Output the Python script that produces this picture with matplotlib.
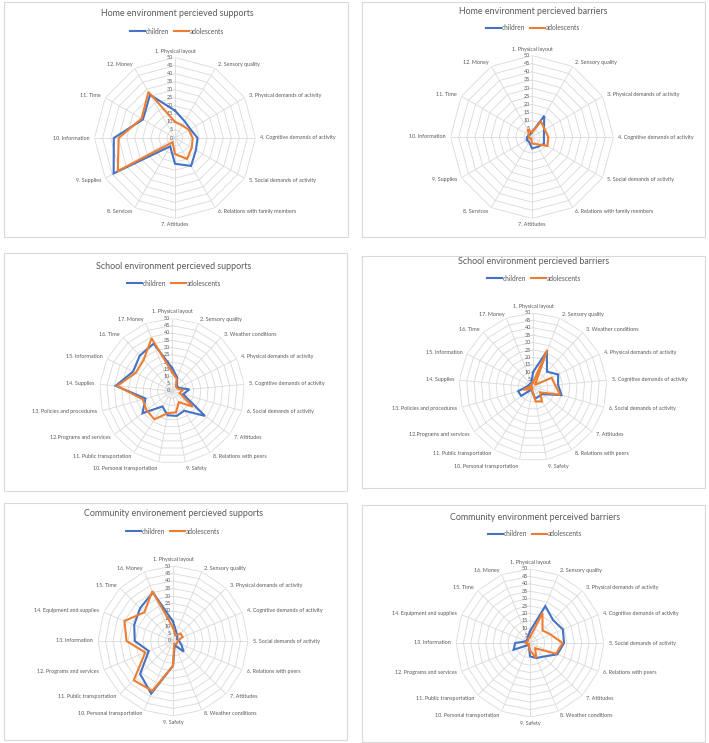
import matplotlib
matplotlib.use("Agg")
import matplotlib.pyplot as plt
import matplotlib.transforms as mtransforms
from matplotlib.patches import Rectangle
import numpy as np

plt.rcParams["font.family"] = ["Lato", "DejaVu Sans"]

W, H = 709, 743
BLUE = "#4472C4"
ORANGE = "#ED7D31"
GRID = "#D9D9D9"
TEXT = "#595959"

ring_values = [0, 5, 10, 15, 20, 25, 30, 35, 40, 45, 50]
series_names = ["children", "adolescents"]

home_labels = [
    "1. Physical layout", "2. Sensory quality", "3. Physical demands of activity",
    "4. Cognitive demands of activity", "5. Social demands of activity",
    "6. Relations with family members", "7. Attitudes", "8. Services",
    "9. Supplies", "10. Information", "11. Time", "12. Money",
]
school_labels = [
    "1. Physical layout", "2. Sensory quality", "3. Weather conditions",
    "4. Physical demands of activity", "5. Cognitive demands of activity",
    "6. Social demands of activity", "7. Attitudes", "8. Relations with peers",
    "9. Safety", "10. Personal transportation", "11. Public transportation",
    "12.Programs and services", "13. Policies and procedures", "14. Supplies",
    "15. Information", "16. Time", "17. Money",
]
community_labels = [
    "1. Physical layout", "2. Sensory quality", "3. Physical demands of activity",
    "4. Cognitive demands of activity", "5. Social demands of activity",
    "6. Relations with peers", "7. Attitudes", "8. Weather conditions",
    "9. Safety", "10. Personal transportation", "11. Public transportation",
    "12. Programs and services", "13. Information", "14. Equipment and supplies",
    "15. Time", "16. Money",
]

home_sup_children = [17, 12, 11, 14, 15, 20, 16, 6, 44, 38, 23, 31]
home_sup_adolescents = [10, 9, 10, 11, 12, 15, 10, 3, 41, 35, 24, 33]

home_bar_children = [3, 15, 8.5, 7.3, 8.5, 7, 7, 3.5, 3.7, 3, 2, 2]
home_bar_adolescents = [3, 11, 9, 10, 11, 5, 4, 1, 2, 2, 2, 5.5]

school_sup_children = [16, 10, 5, 5, 12, 8, 28.5, 16, 17.5, 17, 12.5, 25.5, 19, 39, 30, 33, 35]
school_sup_adolescents = [13, 9, 4, 4, 7.5, 5.5, 18, 9, 15, 15.5, 23, 22, 21, 38, 28, 29, 39]

school_bar_children = [10, 26, 14, 19, 17, 20, 8, 7.5, 8, 3, 2, 10, 10.5, 4, 3, 3, 3]
school_bar_adolescents = [3, 27, 2, 14, 15, 19, 6, 11.5, 10, 3, 1, 2, 7, 2, 1, 2, 2]

community_sup_children = [13, 6, 4, 3, 4, 6, 10, 3, 16.5, 38, 31, 17.5, 25.5, 28, 31, 35]
community_sup_adolescents = [9, 4, 7, 7, 3, 3, 3, 2, 16.5, 36, 37, 20, 31, 35, 27, 36]

community_bar_children = [8, 27, 22, 24, 23, 20, 13, 11, 9, 2, 2, 12, 10, 3, 3, 4]
community_bar_adolescents = [4, 22, 12, 15, 22, 19, 5, 11, 5, 2, 1, 2, 3, 2, 2, 3]

panels = [
    dict(title="Home environment percieved supports", labels=home_labels,
         values=(home_sup_children, home_sup_adolescents),
         box=(4, 2, 348, 237), center=(175, 138), radius=80.5, title_y=14, legend_y=31, title_x=177),
    dict(title="Home environment percieved barriers", labels=home_labels,
         values=(home_bar_children, home_bar_adolescents),
         box=(362, 2, 705, 237), center=(532, 137), radius=81.5, title_y=12, legend_y=28, title_x=533),
    dict(title="School environment percieved supports", labels=school_labels,
         values=(school_sup_children, school_sup_adolescents),
         box=(4, 253, 347, 491), center=(172, 391), radius=72.5, title_y=267, legend_y=283, title_x=174),
    dict(title="School environment percieved barriers", labels=school_labels,
         values=(school_bar_children, school_bar_adolescents),
         box=(362, 256, 705, 488), center=(533, 387), radius=74, title_y=262, legend_y=278, title_x=534),
    dict(title="Community environement percieved supports", labels=community_labels,
         values=(community_sup_children, community_sup_adolescents),
         box=(4, 503, 347, 740), center=(173, 641), radius=75, title_y=514, legend_y=531, title_x=173),
    dict(title="Community environment perceived barriers", labels=community_labels,
         values=(community_bar_children, community_bar_adolescents),
         box=(362, 505, 705, 742), center=(530, 643), radius=74, title_y=517, legend_y=534, title_x=535),
]


def fx(x):
    return x / W


def fy(y):
    return 1 - y / H


def draw_radar(fig, cfg):
    x0, y0, x1, y1 = cfg["box"]
    fig.patches.append(Rectangle((fx(x0), fy(y1)), fx(x1 - x0), (y1 - y0) / H,
                                 transform=fig.transFigure, fill=False,
                                 edgecolor=GRID, lw=0.8))

    cx, cy = cfg["center"]
    r = cfg["radius"]
    ax = fig.add_axes([fx(cx - r), fy(cy + r), 2 * r / W, 2 * r / H], projection="polar")
    ax.set_theta_offset(np.pi / 2)
    ax.set_theta_direction(-1)
    ax.set_ylim(0, 50)
    ax.grid(False)
    ax.set_xticks([])
    ax.set_yticks([])
    ax.spines["polar"].set_visible(False)
    ax.patch.set_visible(False)

    n = len(cfg["labels"])
    theta = np.arange(n) * 2 * np.pi / n
    closed = np.append(theta, theta[0])

    # polygon rings and spokes, Excel radar style
    for v in ring_values[1:]:
        ax.plot(closed, [v] * (n + 1), color=GRID, lw=0.6, zorder=1)
    for t in theta:
        ax.plot([t, t], [0, 50], color=GRID, lw=0.6, zorder=1)

    tick_tr = mtransforms.offset_copy(ax.transData, fig=fig, x=-2, y=0, units="dots")
    for v in ring_values:
        ax.text(0, v, str(v), transform=tick_tr, ha="right", va="center",
                fontsize=3.9, color=TEXT)

    for t, lab in zip(theta, cfg["labels"]):
        sx, sy = np.sin(t), np.cos(t)
        ha = "left" if sx > 0.02 else ("right" if sx < -0.02 else "center")
        if sy > 0.98:
            va = "bottom"
        elif sy < -0.98:
            va = "top"
        else:
            va = "center"
        tr = mtransforms.offset_copy(ax.transData, fig=fig, x=5 * sx, y=4 * sy, units="dots")
        ax.text(t, 50, lab, transform=tr, ha=ha, va=va, fontsize=3.9, color=TEXT)

    handles = []
    for vals, color, name in zip(cfg["values"], (BLUE, ORANGE), series_names):
        line, = ax.plot(closed, list(vals) + [vals[0]], color=color, lw=1.5,
                        label=name, zorder=3, solid_joinstyle="miter")
        handles.append(line)

    fig.text(fx(cfg["title_x"]), fy(cfg["title_y"]), cfg["title"], ha="center", va="center",
             fontsize=6.4, color=TEXT)
    fig.legend(handles=handles, labels=series_names, loc="center",
               bbox_to_anchor=(fx(cfg["title_x"]), fy(cfg["legend_y"])), ncol=2,
               frameon=False, fontsize=4.8, handlelength=2.2, handletextpad=0.15,
               columnspacing=0.8, labelcolor=TEXT)


fig = plt.figure(figsize=(W / 100, H / 100), dpi=100)
for cfg in panels:
    draw_radar(fig, cfg)

fig.savefig("out.png", dpi=100, facecolor="white")
